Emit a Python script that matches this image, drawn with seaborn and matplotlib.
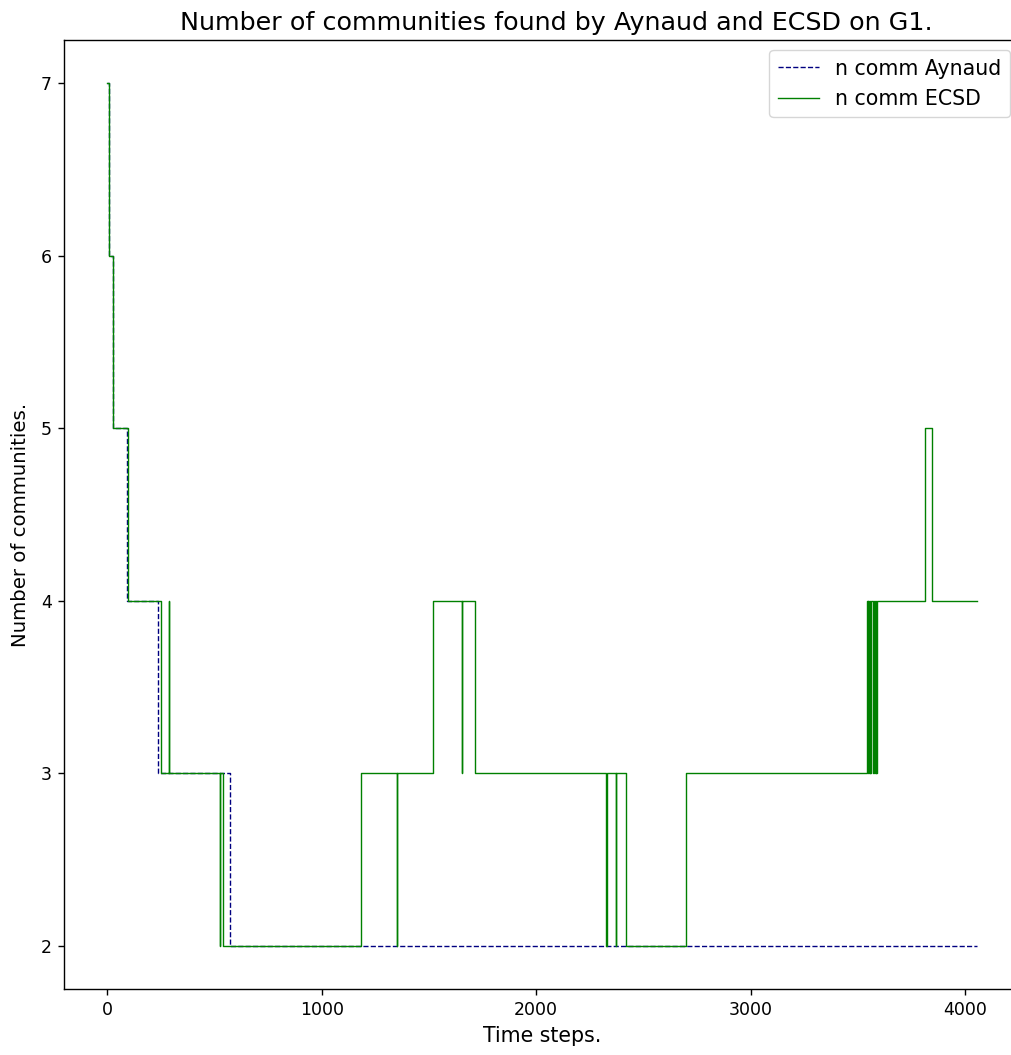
import matplotlib
matplotlib.use("Agg")
import matplotlib.pyplot as plt
import numpy as np
import pandas as pd
import seaborn as sns

# Change points (time step, number of communities); each value holds until the next change.
aynaud_t = [0, 8, 27, 92, 236, 573, 4054]
aynaud_n = [7, 6, 5, 4, 3, 2, 2]

ecsd_t = [0, 8, 28, 95, 248, 285, 288, 523, 526, 538,
          1185, 1349, 1352, 1518, 1652, 1655, 1713,
          2327, 2330, 2371, 2374, 2421, 2698,
          3543, 3546, 3549, 3552, 3556, 3558, 3561,
          3572, 3575, 3579, 3583, 3586, 3589,
          3813, 3845, 4054]
ecsd_n = [7, 6, 5, 4, 3, 4, 3, 2, 3, 2,
          3, 2, 3, 4, 3, 4, 3,
          2, 3, 2, 3, 2, 3,
          4, 3, 4, 3, 4, 3, 4,
          3, 4, 3, 4, 3, 4,
          5, 4, 4]

df_a = pd.DataFrame({"t": aynaud_t, "n": aynaud_n})
df_e = pd.DataFrame({"t": ecsd_t, "n": ecsd_n})

fig = plt.figure(figsize=(10.11, 10.55), dpi=100)
# the axes run slightly past the right edge of the canvas
ax = fig.add_axes([0.0633, 0.0626, 0.9456, 0.8994])

sns.lineplot(data=df_a, x="t", y="n", ax=ax, color="navy", linestyle="--",
             linewidth=1.0, drawstyle="steps-post", estimator=None,
             label="n comm Aynaud")
sns.lineplot(data=df_e, x="t", y="n", ax=ax, color="green", linestyle="-",
             linewidth=1.0, drawstyle="steps-post", estimator=None,
             label="n comm ECSD")

ax.set_ylim(1.75, 7.25)
ax.set_xticks([0, 1000, 2000, 3000, 4000])
ax.set_yticks([2, 3, 4, 5, 6, 7])
ax.tick_params(labelsize=12.5, length=4.4, width=1.0, pad=4.4)
for sp in ax.spines.values():
    sp.set_linewidth(1.0)
ax.set_xlabel("Time steps.", fontsize=14.8, labelpad=5)
ax.set_ylabel("Number of communities.", fontsize=14.2)
ax.yaxis.set_label_coords(-0.036, 0.489)
ax.set_title("Number of communities found by Aynaud and ECSD on G1.",
             fontsize=18.3, pad=7.5, x=0.5146)
ax.legend(loc="upper right", fontsize=14.8)

fig.savefig("out.png", dpi=100)
